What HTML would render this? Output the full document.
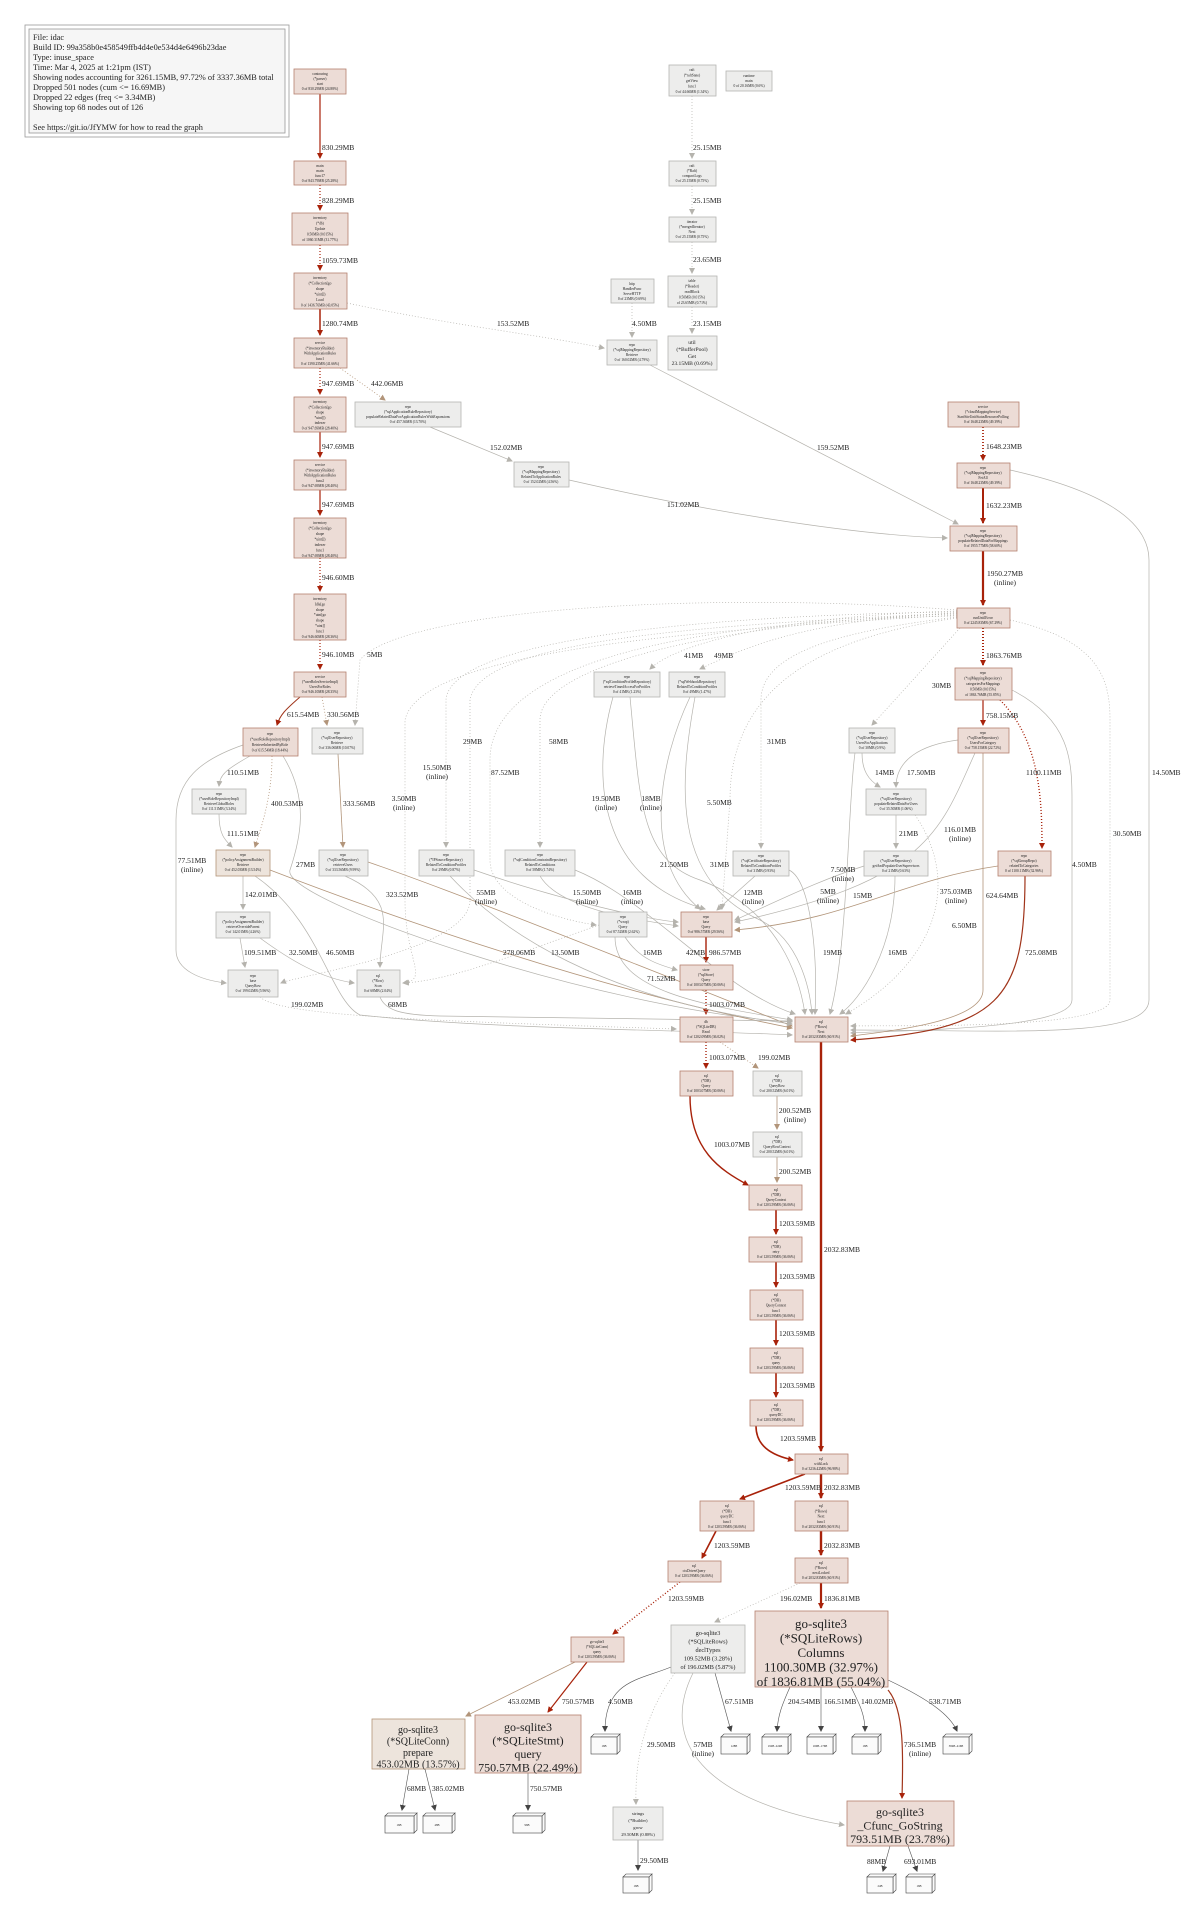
<!DOCTYPE html>
<html><head><meta charset="utf-8"><style>
html,body{margin:0;padding:0;background:#fff}
svg{display:block}
text{font-family:"Liberation Serif",serif;fill:#222}
.l{font-size:7.5px}
.n text{font-size:3.6px;text-anchor:middle}
.r rect{fill:#ecdcd6;stroke:#b5806f;stroke-width:.8}
.g rect{fill:#ededec;stroke:#b5b5b2;stroke-width:.8}
.t rect{fill:#ede4dc;stroke:#b29478;stroke-width:.8}
.e{fill:none}
.red{stroke:#a8220a}
.gry{stroke:#b5b3ad;stroke-width:.7}
.tan{stroke:#b2957a;stroke-width:.8}
.dot{stroke-dasharray:1,2}
.box rect,.box path{fill:#fbfbfb;stroke:#444;stroke-width:.6}
.box text{font-size:3px;text-anchor:middle}
</style></head><body>
<svg width="1200" height="1914" viewBox="0 0 1200 1914" xmlns="http://www.w3.org/2000/svg">
<defs>
<marker id="ar" markerWidth="6" markerHeight="6" refX="5" refY="3" orient="auto" markerUnits="userSpaceOnUse"><path d="M0,0L6,3L0,6z" fill="#a8220a"/></marker>
<marker id="ag" markerWidth="6" markerHeight="6" refX="5" refY="3" orient="auto" markerUnits="userSpaceOnUse"><path d="M0,0L6,3L0,6z" fill="#b5b3ad"/></marker>
<marker id="at" markerWidth="6" markerHeight="6" refX="5" refY="3" orient="auto" markerUnits="userSpaceOnUse"><path d="M0,0L6,3L0,6z" fill="#b2957a"/></marker>
<marker id="ak" markerWidth="6" markerHeight="6" refX="5" refY="3" orient="auto" markerUnits="userSpaceOnUse"><path d="M0,0L6,3L0,6z" fill="#444"/></marker>
</defs>
<rect width="1200" height="1914" fill="#fff"/>

<rect x="25" y="25" width="264" height="112" fill="#fff" stroke="#999" stroke-width=".8"/>
<rect x="29" y="29" width="256" height="104" fill="#f6f6f6" stroke="#999" stroke-width=".8"/>
<g style="font-size:8.3px">
<text x="33" y="40">File: idac</text>
<text x="33" y="50">Build ID: 99a358b0e458549ffb4d4e0e534d4e6496b23dae</text>
<text x="33" y="60">Type: inuse_space</text>
<text x="33" y="70">Time: Mar 4, 2025 at 1:21pm (IST)</text>
<text x="33" y="80">Showing nodes accounting for 3261.15MB, 97.72% of 3337.36MB total</text>
<text x="33" y="90">Dropped 501 nodes (cum &lt;= 16.69MB)</text>
<text x="33" y="100">Dropped 22 edges (freq &lt;= 3.34MB)</text>
<text x="33" y="110">Showing top 68 nodes out of 126</text>
<text x="33" y="130">See https://git.io/JfYMW for how to read the graph</text>
</g>

<g class="e">
<path class="red" stroke-width="1.2" d="M320,94L320,158" marker-end="url(#ar)"/>
<path class="red dot" stroke-width="1.2" d="M320,185L320,210" marker-end="url(#ar)"/>
<path class="red dot" stroke-width="1.2" d="M320,245L320,270" marker-end="url(#ar)"/>
<path class="red" stroke-width="1.5" d="M320,309L320,335" marker-end="url(#ar)"/>
<path class="gry dot" d="M347,303C450,325 540,335 604,348" marker-end="url(#ag)"/>
<path class="red dot" stroke-width="1.2" d="M320,368L320,394" marker-end="url(#ar)"/>
<path class="tan dot" d="M340,368L385,400" marker-end="url(#at)"/>
<path class="red" stroke-width="1.2" d="M320,432L320,457" marker-end="url(#ar)"/>
<path class="red" stroke-width="1.2" d="M320,490L320,515" marker-end="url(#ar)"/>
<path class="red dot" stroke-width="1.2" d="M320,558L320,591" marker-end="url(#ar)"/>
<path class="red dot" stroke-width="1.2" d="M320,640L320,669" marker-end="url(#ar)"/>
<path class="gry" d="M430,427L512,461" marker-end="url(#ag)"/>
<path class="gry" d="M569,480C700,510 850,535 947,538" marker-end="url(#ag)"/>
<path class="gry" d="M650,365L958,524" marker-end="url(#ag)"/>
<path class="gry dot" d="M632,303L632,337" marker-end="url(#ag)"/>
<path class="gry dot" d="M692,96L692,158" marker-end="url(#ag)"/>
<path class="gry dot" d="M692,186L692,214" marker-end="url(#ag)"/>
<path class="gry dot" d="M692,242L692,273" marker-end="url(#ag)"/>
<path class="gry dot" d="M692,307L692,333" marker-end="url(#ag)"/>
<path class="red dot" stroke-width="1.8" d="M983,427L983,460" marker-end="url(#ar)"/>
<path class="red" stroke-width="2" d="M983,488L983,523" marker-end="url(#ar)"/>
<path class="red" stroke-width="2.2" d="M983,551L983,605" marker-end="url(#ar)"/>
<path class="red dot" stroke-width="2" d="M983,628L983,665" marker-end="url(#ar)"/>
<path class="red" stroke-width="1.2" d="M983,700L983,725" marker-end="url(#ar)"/>
<path class="red dot" stroke-width="1.4" d="M1000,700C1040,740 1042,800 1042,848" marker-end="url(#ar)"/>
<path class="gry" d="M1010,470C1100,490 1149,520 1149,560L1149,1000C1149,1040 1000,1030 851,1030" marker-end="url(#ag)"/>
<path class="gry" d="M1012,690C1070,720 1072,760 1072,800L1072,1000C1072,1030 900,1030 851,1033" marker-end="url(#ag)"/>
<path class="gry dot" d="M1010,620C1100,640 1110,680 1110,720L1110,1000C1110,1030 900,1025 851,1026" marker-end="url(#ag)"/>
<path class="tan" stroke-width="1.1" d="M983,753L983,990C983,1020 900,1030 851,1036" marker-end="url(#at)"/>
<path stroke="#a0341a" stroke-width="1.2" d="M1025,876C1025,1000 1000,1030 851,1040" marker-end="url(#ar)"/>
<path class="tan" d="M998,866C900,880 850,920 735,930" marker-end="url(#at)"/>
<path class="gry" d="M975,753C940,830 930,880 735,922" marker-end="url(#ag)"/>
<path class="gry" d="M862,753C862,770 868,780 880,787" marker-end="url(#ag)"/>
<path class="gry" d="M958,740C920,745 896,760 896,787" marker-end="url(#ag)"/>
<path class="gry" d="M896,815L896,848" marker-end="url(#ag)"/>
<path class="gry" d="M855,753C848,800 848,950 830,1014" marker-end="url(#ag)"/>
<path class="gry" d="M895,876C895,950 860,1000 840,1014" marker-end="url(#ag)"/>
<path class="gry" d="M864,866C820,880 780,900 735,920" marker-end="url(#ag)"/>
<path class="gry dot" d="M915,815C960,880 940,960 846,1014" marker-end="url(#ag)"/>
<path class="gry" d="M755,876L717,910" marker-end="url(#ag)"/>
<path class="gry" d="M789,870C810,880 818,950 815,1014" marker-end="url(#ag)"/>
<path class="gry" d="M690,697C660,760 640,860 700,909" marker-end="url(#ag)"/>
<path class="gry" d="M695,697C680,780 670,880 760,920C800,940 810,990 812,1014" marker-end="url(#ag)"/>
<path class="gry" d="M613,697C590,780 600,880 705,909" marker-end="url(#ag)"/>
<path class="gry" d="M630,697C640,800 640,860 700,880C780,910 800,980 805,1014" marker-end="url(#ag)"/>
<path class="red" stroke-width="1.4" d="M706,937L706,962" marker-end="url(#ar)"/>
<path class="gry" d="M625,937C640,960 660,965 677,970" marker-end="url(#ag)"/>
<path class="gry" d="M615,937C615,990 700,1005 792,1020" marker-end="url(#ag)"/>
<path class="red dot" stroke-width="1.4" d="M706,990L706,1014" marker-end="url(#ar)"/>
<path class="red dot" stroke-width="1.4" d="M706,1042L706,1068" marker-end="url(#ar)"/>
<path class="tan dot" d="M720,1042L758,1068" marker-end="url(#at)"/>
<path class="red" stroke-width="1.4" d="M690,1096C690,1150 720,1170 748,1185" marker-end="url(#ar)"/>
<path class="tan" d="M777,1096L777,1129" marker-end="url(#at)"/>
<path class="tan" d="M777,1157L777,1182" marker-end="url(#at)"/>
<path class="red" stroke-width="1.6" d="M776,1210L776,1234" marker-end="url(#ar)"/>
<path class="red" stroke-width="1.6" d="M776,1262L776,1287" marker-end="url(#ar)"/>
<path class="red" stroke-width="1.6" d="M776,1320L776,1345" marker-end="url(#ar)"/>
<path class="red" stroke-width="1.6" d="M776,1373L776,1397" marker-end="url(#ar)"/>
<path class="red" stroke-width="1.6" d="M756,1426C756,1445 770,1455 793,1460" marker-end="url(#ar)"/>
<path class="red" stroke-width="2.4" d="M821,1042L821,1451" marker-end="url(#ar)"/>
<path class="red" stroke-width="1.6" d="M805,1474L740,1499" marker-end="url(#ar)"/>
<path class="red" stroke-width="2.4" d="M821,1474L821,1498" marker-end="url(#ar)"/>
<path class="red" stroke-width="1.6" d="M716,1531L702,1558" marker-end="url(#ar)"/>
<path class="red" stroke-width="2.4" d="M821,1531L821,1555" marker-end="url(#ar)"/>
<path class="red dot" stroke-width="1.4" d="M680,1582L613,1634" marker-end="url(#ar)"/>
<path class="red" stroke-width="2.2" d="M821,1583L821,1608" marker-end="url(#ar)"/>
<path class="gry dot" d="M800,1583L715,1622" marker-end="url(#ag)"/>
<path class="tan" d="M575,1662L466,1716" marker-end="url(#at)"/>
<path class="red" stroke-width="1.2" d="M587,1662L548,1712" marker-end="url(#ar)"/>
<path stroke="#555" stroke-width=".6" d="M409,1769L402,1810" marker-end="url(#ak)"/>
<path stroke="#555" stroke-width=".6" d="M425,1769L435,1810" marker-end="url(#ak)"/>
<path stroke="#555" stroke-width=".6" d="M528,1773L528,1810" marker-end="url(#ak)"/>
<path stroke="#555" stroke-width=".6" d="M671,1667C640,1680 605,1680 605,1731" marker-end="url(#ak)"/>
<path stroke="#555" stroke-width=".6" d="M715,1673L731,1731" marker-end="url(#ak)"/>
<path class="gry dot" d="M675,1673C640,1720 635,1770 636,1804" marker-end="url(#ag)"/>
<path class="gry" d="M693,1673C660,1740 700,1800 844,1825" marker-end="url(#ag)"/>
<path stroke="#555" stroke-width=".6" d="M790,1687C782,1705 778,1715 777,1731" marker-end="url(#ak)"/>
<path stroke="#555" stroke-width=".6" d="M821,1687L821,1731" marker-end="url(#ak)"/>
<path stroke="#555" stroke-width=".6" d="M851,1687C860,1705 865,1715 865,1731" marker-end="url(#ak)"/>
<path stroke="#555" stroke-width=".6" d="M888,1680C930,1700 950,1715 957,1731" marker-end="url(#ak)"/>
<path stroke="#a0341a" stroke-width="1.2" d="M888,1690C905,1710 903,1760 902,1798" marker-end="url(#ar)"/>
<path stroke="#555" stroke-width=".6" d="M890,1846L883,1871" marker-end="url(#ak)"/>
<path stroke="#555" stroke-width=".6" d="M908,1846L917,1871" marker-end="url(#ak)"/>
<path stroke="#555" stroke-width=".6" d="M638,1840L638,1870" marker-end="url(#ak)"/>
<path stroke="#a0341a" stroke-width="1" d="M300,697C285,710 280,715 277,725" marker-end="url(#ar)"/>
<path class="tan dot" d="M322,697L327,725" marker-end="url(#at)"/>
<path class="gry dot" d="M957,610C700,590 400,610 360,660L355,725" marker-end="url(#ag)"/>
<path class="gry dot" d="M957,612C700,615 450,640 446,700L446,847" marker-end="url(#ag)"/>
<path class="gry dot" d="M957,614C750,620 540,660 540,720L540,847" marker-end="url(#ag)"/>
<path class="gry dot" d="M957,616C700,620 490,660 490,760L490,860C490,900 560,920 596,925" marker-end="url(#ag)"/>
<path class="gry dot" d="M957,611C800,615 680,640 650,669" marker-end="url(#ag)"/>
<path class="gry dot" d="M957,613C800,620 740,650 700,669" marker-end="url(#ag)"/>
<path class="gry dot" d="M957,617C850,630 761,650 761,700L761,848" marker-end="url(#ag)"/>
<path class="gry dot" d="M960,628L872,725" marker-end="url(#ag)"/>
<path class="gry dot" d="M957,615C700,630 420,650 405,720L405,900C405,960 430,980 403,983" marker-end="url(#ag)"/>
<path class="gry dot" d="M957,613C700,625 480,640 470,700L470,900C470,950 300,975 281,983" marker-end="url(#ag)"/>
<path class="gry dot" d="M957,618C800,640 730,700 730,800L722,909" marker-end="url(#ag)"/>
<path class="gry" d="M250,756C225,770 220,775 219,786" marker-end="url(#ag)"/>
<path class="tan dot" d="M272,756C272,800 260,830 255,847" marker-end="url(#at)"/>
<path class="gry" d="M219,814C219,835 225,840 232,847" marker-end="url(#ag)"/>
<path class="gry" d="M243,745C200,760 176,780 176,820L176,950C176,970 200,980 226,983" marker-end="url(#ag)"/>
<path class="gry" d="M283,756C310,800 300,840 290,870C280,900 600,1010 792,1022" marker-end="url(#ag)"/>
<path class="tan" d="M338,754L343,847" marker-end="url(#at)"/>
<path class="gry" d="M243,876L243,909" marker-end="url(#ag)"/>
<path class="tan" d="M270,870C400,920 600,990 792,1028" marker-end="url(#at)"/>
<path class="gry" d="M255,876C320,920 330,1000 360,1015C500,1030 700,1030 792,1035" marker-end="url(#ag)"/>
<path class="gry" d="M240,938L245,967" marker-end="url(#ag)"/>
<path class="gry" d="M260,938C290,960 320,978 354,983" marker-end="url(#ag)"/>
<path class="gry" d="M345,876C400,900 380,930 380,967" marker-end="url(#ag)"/>
<path class="tan" d="M368,862C450,890 600,950 792,1026" marker-end="url(#at)"/>
<path class="gry" d="M450,876C500,930 600,1000 792,1024" marker-end="url(#ag)"/>
<path class="gry" d="M474,870C560,900 650,920 678,922" marker-end="url(#ag)"/>
<path class="gry" d="M540,876C560,910 640,920 678,926" marker-end="url(#ag)"/>
<path class="gry" d="M575,870C650,900 720,990 795,1014" marker-end="url(#ag)"/>
<path class="gry dot" d="M260,997C280,1015 400,1020 676,1029" marker-end="url(#ag)"/>
<path class="gry" d="M380,997C385,1010 400,1015 440,1016L792,1021" marker-end="url(#ag)"/>
<path class="gry dot" d="M599,925C500,960 450,980 404,983" marker-end="url(#ag)"/>
</g>

<g class="l">
<text x="322" y="150">830.29MB</text>
<text x="322" y="203">828.29MB</text>
<text x="322" y="263">1059.73MB</text>
<text x="322" y="326">1280.74MB</text>
<text x="322" y="386">947.69MB</text>
<text x="371" y="386">442.06MB</text>
<text x="497" y="326">153.52MB</text>
<text x="490" y="450">152.02MB</text>
<text x="322" y="449">947.69MB</text>
<text x="322" y="507">947.69MB</text>
<text x="322" y="580">946.60MB</text>
<text x="322" y="657">946.10MB</text>
<text x="367" y="657">5MB</text>
<text x="287" y="717">615.54MB</text>
<text x="327" y="717">330.56MB</text>
<text x="227" y="775">110.51MB</text>
<text x="271" y="806">400.53MB</text>
<text x="343" y="806">333.56MB</text>
<text x="227" y="836">111.51MB</text>
<text x="192" y="863" text-anchor="middle">77.51MB</text><text x="192" y="872" text-anchor="middle">(inline)</text>
<text x="296" y="867">27MB</text>
<text x="245" y="897">142.01MB</text>
<text x="386" y="897">323.52MB</text>
<text x="486" y="895" text-anchor="middle">55MB</text><text x="486" y="904" text-anchor="middle">(inline)</text>
<text x="587" y="895" text-anchor="middle">15.50MB</text><text x="587" y="904" text-anchor="middle">(inline)</text>
<text x="632" y="895" text-anchor="middle">16MB</text><text x="632" y="904" text-anchor="middle">(inline)</text>
<text x="753" y="895" text-anchor="middle">12MB</text><text x="753" y="904" text-anchor="middle">(inline)</text>
<text x="244" y="955">109.51MB</text>
<text x="289" y="955">32.50MB</text>
<text x="326" y="955">46.50MB</text>
<text x="503" y="955">278.06MB</text>
<text x="551" y="955">13.50MB</text>
<text x="388" y="1007">68MB</text>
<text x="291" y="1007">199.02MB</text>
<text x="463" y="744">29MB</text>
<text x="549" y="744">58MB</text>
<text x="437" y="770" text-anchor="middle">15.50MB</text><text x="437" y="779" text-anchor="middle">(inline)</text>
<text x="491" y="775">87.52MB</text>
<text x="404" y="801" text-anchor="middle">3.50MB</text><text x="404" y="810" text-anchor="middle">(inline)</text>
<text x="684" y="658">41MB</text>
<text x="714" y="658">49MB</text>
<text x="767" y="744">31MB</text>
<text x="606" y="801" text-anchor="middle">19.50MB</text><text x="606" y="810" text-anchor="middle">(inline)</text>
<text x="651" y="801" text-anchor="middle">18MB</text><text x="651" y="810" text-anchor="middle">(inline)</text>
<text x="707" y="805">5.50MB</text>
<text x="660" y="867">21.50MB</text>
<text x="710" y="867">31MB</text>
<text x="643" y="955">16MB</text>
<text x="686" y="955">42MB</text>
<text x="709" y="955">986.57MB</text>
<text x="647" y="981">71.52MB</text>
<text x="709" y="1007">1003.07MB</text>
<text x="693" y="150">25.15MB</text>
<text x="693" y="203">25.15MB</text>
<text x="693" y="262">23.65MB</text>
<text x="632" y="326">4.50MB</text>
<text x="693" y="326">23.15MB</text>
<text x="817" y="450">159.52MB</text>
<text x="667" y="507">151.02MB</text>
<text x="986" y="449">1648.23MB</text>
<text x="986" y="508">1632.23MB</text>
<text x="1005" y="576" text-anchor="middle">1950.27MB</text><text x="1005" y="585" text-anchor="middle">(inline)</text>
<text x="986" y="658">1863.76MB</text>
<text x="932" y="688">30MB</text>
<text x="986" y="718">758.15MB</text>
<text x="1026" y="775">1100.11MB</text>
<text x="875" y="775">14MB</text>
<text x="907" y="775">17.50MB</text>
<text x="1152" y="775">14.50MB</text>
<text x="960" y="832" text-anchor="middle">116.01MB</text><text x="960" y="841" text-anchor="middle">(inline)</text>
<text x="1113" y="836">30.50MB</text>
<text x="899" y="836">21MB</text>
<text x="1072" y="867">4.50MB</text>
<text x="843" y="872" text-anchor="middle">7.50MB</text><text x="843" y="881" text-anchor="middle">(inline)</text>
<text x="828" y="894" text-anchor="middle">5MB</text><text x="828" y="903" text-anchor="middle">(inline)</text>
<text x="853" y="898">15MB</text>
<text x="956" y="894" text-anchor="middle">375.03MB</text><text x="956" y="903" text-anchor="middle">(inline)</text>
<text x="986" y="898">624.64MB</text>
<text x="952" y="928">6.50MB</text>
<text x="823" y="955">19MB</text>
<text x="888" y="955">16MB</text>
<text x="1025" y="955">725.08MB</text>
<text x="709" y="1060">1003.07MB</text>
<text x="758" y="1060">199.02MB</text>
<text x="795" y="1113" text-anchor="middle">200.52MB</text><text x="795" y="1122" text-anchor="middle">(inline)</text>
<text x="714" y="1147">1003.07MB</text>
<text x="779" y="1174">200.52MB</text>
<text x="779" y="1226">1203.59MB</text>
<text x="824" y="1252">2032.83MB</text>
<text x="779" y="1279">1203.59MB</text>
<text x="779" y="1336">1203.59MB</text>
<text x="779" y="1388">1203.59MB</text>
<text x="780" y="1441">1203.59MB</text>
<text x="785" y="1490">1203.59MB</text>
<text x="824" y="1490">2032.83MB</text>
<text x="714" y="1548">1203.59MB</text>
<text x="824" y="1548">2032.83MB</text>
<text x="668" y="1601">1203.59MB</text>
<text x="780" y="1601">196.02MB</text>
<text x="824" y="1601">1836.81MB</text>
<text x="508" y="1704">453.02MB</text>
<text x="562" y="1704">750.57MB</text>
<text x="608" y="1704">4.50MB</text>
<text x="725" y="1704">67.51MB</text>
<text x="788" y="1704">204.54MB</text>
<text x="824" y="1704">166.51MB</text>
<text x="861" y="1704">140.02MB</text>
<text x="929" y="1704">538.71MB</text>
<text x="647" y="1747">29.50MB</text>
<text x="703" y="1747" text-anchor="middle">57MB</text><text x="703" y="1756" text-anchor="middle">(inline)</text>
<text x="920" y="1747" text-anchor="middle">736.51MB</text><text x="920" y="1756" text-anchor="middle">(inline)</text>
<text x="407" y="1791">68MB</text>
<text x="432" y="1791">385.02MB</text>
<text x="530" y="1791">750.57MB</text>
<text x="640" y="1863">29.50MB</text>
<text x="867" y="1864">88MB</text>
<text x="904" y="1864">693.01MB</text>
</g>

<g class="n r">
<rect x="294" y="69" width="52" height="25"/><text x="320" y="75"><tspan x="320">contouring</tspan><tspan x="320" dy="5">(*parser)</tspan><tspan x="320" dy="5">start</tspan><tspan x="320" dy="5">0 of 830.29MB (24.88%)</tspan></text>
<rect x="294" y="161" width="52" height="24"/><text x="320" y="167"><tspan x="320">main</tspan><tspan x="320" dy="5">main</tspan><tspan x="320" dy="5">func17</tspan><tspan x="320" dy="5">0 of 843.79MB (25.28%)</tspan></text>
<rect x="292" y="213" width="56" height="32"/><text x="320" y="219"><tspan x="320">inventory</tspan><tspan x="320" dy="5.5">(*db)</tspan><tspan x="320" dy="5.5">Update</tspan><tspan x="320" dy="5.5">0.50MB (0.015%)</tspan><tspan x="320" dy="5.5">of 1060.31MB (31.77%)</tspan></text>
<rect x="294" y="273" width="53" height="36"/><text x="320" y="279"><tspan x="320">inventory</tspan><tspan x="320" dy="5.5">(*Collection[go</tspan><tspan x="320" dy="5.5">shape</tspan><tspan x="320" dy="5.5">*uint]])</tspan><tspan x="320" dy="5.5">Load</tspan><tspan x="320" dy="5.5">0 of 1436.76MB (43.05%)</tspan></text>
<rect x="294" y="338" width="53" height="30"/><text x="320" y="344"><tspan x="320">service</tspan><tspan x="320" dy="5.3">(*inventoryBuilder)</tspan><tspan x="320" dy="5.3">WithApplicationRules</tspan><tspan x="320" dy="5.3">func1</tspan><tspan x="320" dy="5.3">0 of 1390.25MB (41.66%)</tspan></text>
<rect x="294" y="397" width="52" height="35"/><text x="320" y="403"><tspan x="320">inventory</tspan><tspan x="320" dy="5.3">(*Collection[go</tspan><tspan x="320" dy="5.3">shape</tspan><tspan x="320" dy="5.3">*uint]])</tspan><tspan x="320" dy="5.3">indexer</tspan><tspan x="320" dy="5.3">0 of 947.69MB (28.40%)</tspan></text>
<rect x="294" y="460" width="52" height="30"/><text x="320" y="466"><tspan x="320">service</tspan><tspan x="320" dy="5.3">(*inventoryBuilder)</tspan><tspan x="320" dy="5.3">WithApplicationRules</tspan><tspan x="320" dy="5.3">func2</tspan><tspan x="320" dy="5.3">0 of 947.69MB (28.40%)</tspan></text>
<rect x="294" y="518" width="52" height="40"/><text x="320" y="524"><tspan x="320">inventory</tspan><tspan x="320" dy="5.5">(*Collection[go</tspan><tspan x="320" dy="5.5">shape</tspan><tspan x="320" dy="5.5">*uint]])</tspan><tspan x="320" dy="5.5">indexer</tspan><tspan x="320" dy="5.5">func1</tspan><tspan x="320" dy="5.5">0 of 947.69MB (28.40%)</tspan></text>
<rect x="294" y="594" width="52" height="46"/><text x="320" y="600"><tspan x="320">inventory</tspan><tspan x="320" dy="5.4">Idle[go</tspan><tspan x="320" dy="5.4">shape</tspan><tspan x="320" dy="5.4">*uint[go</tspan><tspan x="320" dy="5.4">shape</tspan><tspan x="320" dy="5.4">*uint]]</tspan><tspan x="320" dy="5.4">func1</tspan><tspan x="320" dy="5.4">0 of 946.60MB (28.36%)</tspan></text>
<rect x="294" y="672" width="52" height="25"/><text x="320" y="678"><tspan x="320">service</tspan><tspan x="320" dy="5">(*userRolesServiceImpl)</tspan><tspan x="320" dy="5">UsersForRoles</tspan><tspan x="320" dy="5">0 of 946.10MB (28.35%)</tspan></text>
<rect x="243" y="728" width="55" height="28"/><text x="270" y="735"><tspan x="270">repo</tspan><tspan x="270" dy="5.5">(*userRoleRepositoryImpl)</tspan><tspan x="270" dy="5.5">RetrieveInheritedByRole</tspan><tspan x="270" dy="5.5">0 of 615.54MB (18.44%)</tspan></text>
<rect x="948" y="402" width="71" height="25"/><text x="983" y="408"><tspan x="983">service</tspan><tspan x="983" dy="5">(*cloudMappingService)</tspan><tspan x="983" dy="5">StartSiteUnitStatusResourcePolling</tspan><tspan x="983" dy="5">0 of 1648.23MB (49.39%)</tspan></text>
<rect x="957" y="463" width="53" height="25"/><text x="983" y="469"><tspan x="983">repo</tspan><tspan x="983" dy="5">(*sqlMappingRepository)</tspan><tspan x="983" dy="5">FetAll</tspan><tspan x="983" dy="5">0 of 1648.23MB (49.39%)</tspan></text>
<rect x="950" y="526" width="67" height="25"/><text x="983" y="532"><tspan x="983">repo</tspan><tspan x="983" dy="5">(*sqlMappingRepository)</tspan><tspan x="983" dy="5">populateRelatedDataForMappings</tspan><tspan x="983" dy="5">0 of 1955.77MB (58.60%)</tspan></text>
<rect x="957" y="608" width="53" height="20"/><text x="983" y="614"><tspan x="983">repo</tspan><tspan x="983" dy="5">runUntilError</tspan><tspan x="983" dy="5">0 of 2245.83MB (67.29%)</tspan></text>
<rect x="955" y="668" width="57" height="32"/><text x="983" y="674"><tspan x="983">repo</tspan><tspan x="983" dy="5.5">(*sqlMappingRepository)</tspan><tspan x="983" dy="5.5">categoriesForMappings</tspan><tspan x="983" dy="5.5">0.50MB (0.015%)</tspan><tspan x="983" dy="5.5">of 1863.76MB (55.85%)</tspan></text>
<rect x="958" y="728" width="51" height="25"/><text x="983" y="734"><tspan x="983">repo</tspan><tspan x="983" dy="5">(*sqlUserRepository)</tspan><tspan x="983" dy="5">UsersForCategory</tspan><tspan x="983" dy="5">0 of 758.15MB (22.72%)</tspan></text>
<rect x="998" y="851" width="53" height="25"/><text x="1024" y="857"><tspan x="1024">repo</tspan><tspan x="1024" dy="5">(*sqlGroupRepo)</tspan><tspan x="1024" dy="5">relatedToCategories</tspan><tspan x="1024" dy="5">0 of 1100.11MB (32.96%)</tspan></text>
<rect x="681" y="912" width="51" height="25"/><text x="706" y="918"><tspan x="706">repo</tspan><tspan x="706" dy="5">base</tspan><tspan x="706" dy="5">Query</tspan><tspan x="706" dy="5">0 of 986.57MB (29.56%)</tspan></text>
<rect x="680" y="965" width="53" height="25"/><text x="706" y="971"><tspan x="706">store</tspan><tspan x="706" dy="5">(*sqlStore)</tspan><tspan x="706" dy="5">Query</tspan><tspan x="706" dy="5">0 of 1003.07MB (30.06%)</tspan></text>
<rect x="680" y="1017" width="53" height="25"/><text x="706" y="1023"><tspan x="706">db</tspan><tspan x="706" dy="5">(*SQLiteDB)</tspan><tspan x="706" dy="5">Read</tspan><tspan x="706" dy="5">0 of 1202.09MB (36.02%)</tspan></text>
<rect x="795" y="1017" width="53" height="25"/><text x="821" y="1023"><tspan x="821">sql</tspan><tspan x="821" dy="5">(*Rows)</tspan><tspan x="821" dy="5">Next</tspan><tspan x="821" dy="5">0 of 2032.83MB (60.91%)</tspan></text>
<rect x="680" y="1071" width="53" height="25"/><text x="706" y="1077"><tspan x="706">sql</tspan><tspan x="706" dy="5">(*DB)</tspan><tspan x="706" dy="5">Query</tspan><tspan x="706" dy="5">0 of 1003.07MB (30.06%)</tspan></text>
<rect x="749" y="1185" width="53" height="25"/><text x="776" y="1191"><tspan x="776">sql</tspan><tspan x="776" dy="5">(*DB)</tspan><tspan x="776" dy="5">QueryContext</tspan><tspan x="776" dy="5">0 of 1203.59MB (36.06%)</tspan></text>
<rect x="749" y="1237" width="53" height="25"/><text x="776" y="1243"><tspan x="776">sql</tspan><tspan x="776" dy="5">(*DB)</tspan><tspan x="776" dy="5">retry</tspan><tspan x="776" dy="5">0 of 1203.59MB (36.06%)</tspan></text>
<rect x="750" y="1290" width="53" height="30"/><text x="776" y="1296"><tspan x="776">sql</tspan><tspan x="776" dy="5.3">(*DB)</tspan><tspan x="776" dy="5.3">QueryContext</tspan><tspan x="776" dy="5.3">func1</tspan><tspan x="776" dy="5.3">0 of 1203.59MB (36.06%)</tspan></text>
<rect x="750" y="1348" width="53" height="25"/><text x="776" y="1354"><tspan x="776">sql</tspan><tspan x="776" dy="5">(*DB)</tspan><tspan x="776" dy="5">query</tspan><tspan x="776" dy="5">0 of 1203.59MB (36.06%)</tspan></text>
<rect x="750" y="1400" width="53" height="26"/><text x="776" y="1406"><tspan x="776">sql</tspan><tspan x="776" dy="5">(*DB)</tspan><tspan x="776" dy="5">queryDC</tspan><tspan x="776" dy="5">0 of 1203.59MB (36.06%)</tspan></text>
<rect x="795" y="1454" width="53" height="20"/><text x="821" y="1460"><tspan x="821">sql</tspan><tspan x="821" dy="5">withLock</tspan><tspan x="821" dy="5">0 of 3236.42MB (96.98%)</tspan></text>
<rect x="700" y="1501" width="54" height="30"/><text x="727" y="1507"><tspan x="727">sql</tspan><tspan x="727" dy="5.3">(*DB)</tspan><tspan x="727" dy="5.3">queryDC</tspan><tspan x="727" dy="5.3">func1</tspan><tspan x="727" dy="5.3">0 of 1203.59MB (36.06%)</tspan></text>
<rect x="795" y="1501" width="53" height="30"/><text x="821" y="1507"><tspan x="821">sql</tspan><tspan x="821" dy="5.3">(*Rows)</tspan><tspan x="821" dy="5.3">Next</tspan><tspan x="821" dy="5.3">func1</tspan><tspan x="821" dy="5.3">0 of 2032.83MB (60.91%)</tspan></text>
<rect x="668" y="1561" width="53" height="21"/><text x="694" y="1567"><tspan x="694">sql</tspan><tspan x="694" dy="5">ctxDriverQuery</tspan><tspan x="694" dy="5">0 of 1203.59MB (36.06%)</tspan></text>
<rect x="795" y="1558" width="53" height="25"/><text x="821" y="1564"><tspan x="821">sql</tspan><tspan x="821" dy="5">(*Rows)</tspan><tspan x="821" dy="5">nextLocked</tspan><tspan x="821" dy="5">0 of 2032.83MB (60.91%)</tspan></text>
<rect x="571" y="1637" width="53" height="25"/><text x="597" y="1643"><tspan x="597">go-sqlite3</tspan><tspan x="597" dy="5">(*SQLiteConn)</tspan><tspan x="597" dy="5">query</tspan><tspan x="597" dy="5">0 of 1203.59MB (36.06%)</tspan></text>
<rect x="755" y="1611" width="133" height="76"/>
<text x="821" y="1628" style="font-size:13px"><tspan x="821">go-sqlite3</tspan><tspan x="821" dy="14.5">(*SQLiteRows)</tspan><tspan x="821" dy="14.5">Columns</tspan><tspan x="821" dy="14.5">1100.30MB (32.97%)</tspan><tspan x="821" dy="14.5">of 1836.81MB (55.04%)</tspan></text>
<rect x="475" y="1715" width="106" height="58"/>
<text x="528" y="1731" style="font-size:12px"><tspan x="528">go-sqlite3</tspan><tspan x="528" dy="13.5">(*SQLiteStmt)</tspan><tspan x="528" dy="13.5">query</tspan><tspan x="528" dy="13.5">750.57MB (22.49%)</tspan></text>
<rect x="847" y="1801" width="107" height="45"/>
<text x="900" y="1816" style="font-size:12px"><tspan x="900">go-sqlite3</tspan><tspan x="900" dy="13.5">_Cfunc_GoString</tspan><tspan x="900" dy="13.5">793.51MB (23.78%)</tspan></text>
</g>
<g class="n t">
<rect x="216" y="850" width="54" height="26"/><text x="243" y="856"><tspan x="243">repo</tspan><tspan x="243" dy="5">(*policyAssignmentBuilder)</tspan><tspan x="243" dy="5">Retrieve</tspan><tspan x="243" dy="5">0 of 452.03MB (13.54%)</tspan></text>
<rect x="372" y="1719" width="93" height="50"/>
<text x="418" y="1733" style="font-size:10px"><tspan x="418">go-sqlite3</tspan><tspan x="418" dy="11.5">(*SQLiteConn)</tspan><tspan x="418" dy="11.5">prepare</tspan><tspan x="418" dy="11.5">453.02MB (13.57%)</tspan></text>
</g>
<g class="n g">
<rect x="355" y="402" width="106" height="25"/><text x="408" y="408"><tspan x="408">repo</tspan><tspan x="408" dy="5">(*sqlApplicationRuleRepository)</tspan><tspan x="408" dy="5">populateRelatedDataForApplicationRulesWithExpansions</tspan><tspan x="408" dy="5">0 of 457.36MB (13.70%)</tspan></text>
<rect x="312" y="728" width="51" height="26"/><text x="337" y="734"><tspan x="337">repo</tspan><tspan x="337" dy="5">(*sqlUserRepository)</tspan><tspan x="337" dy="5">Retrieve</tspan><tspan x="337" dy="5">0 of 336.06MB (10.07%)</tspan></text>
<rect x="514" y="462" width="55" height="25"/><text x="541" y="468"><tspan x="541">repo</tspan><tspan x="541" dy="5">(*sqlMappingRepository)</tspan><tspan x="541" dy="5">RelatedToApplicationRules</tspan><tspan x="541" dy="5">0 of 152.02MB (4.56%)</tspan></text>
<rect x="192" y="789" width="54" height="25"/><text x="219" y="795"><tspan x="219">repo</tspan><tspan x="219" dy="5">(*userRoleRepositoryImpl)</tspan><tspan x="219" dy="5">RetrieveGlobalRoles</tspan><tspan x="219" dy="5">0 of 111.51MB (3.34%)</tspan></text>
<rect x="319" y="850" width="49" height="26"/><text x="343" y="856"><tspan x="343">repo</tspan><tspan x="343" dy="5">(*sqlUserRepository)</tspan><tspan x="343" dy="5">retrieveUsers</tspan><tspan x="343" dy="5">0 of 333.56MB (9.99%)</tspan></text>
<rect x="419" y="850" width="55" height="26"/><text x="446" y="856"><tspan x="446">repo</tspan><tspan x="446" dy="5">(*IPSourceRepository)</tspan><tspan x="446" dy="5">RelatedToConditionProfiles</tspan><tspan x="446" dy="5">0 of 29MB (0.87%)</tspan></text>
<rect x="505" y="850" width="70" height="26"/><text x="540" y="856"><tspan x="540">repo</tspan><tspan x="540" dy="5">(*sqlConditionConstraintRepository)</tspan><tspan x="540" dy="5">RelatedToConditions</tspan><tspan x="540" dy="5">0 of 58MB (1.74%)</tspan></text>
<rect x="216" y="912" width="54" height="26"/><text x="243" y="918"><tspan x="243">repo</tspan><tspan x="243" dy="5">(*policyAssignmentBuilder)</tspan><tspan x="243" dy="5">retrieveOverrideParent</tspan><tspan x="243" dy="5">0 of 142.01MB (4.26%)</tspan></text>
<rect x="228" y="970" width="50" height="27"/><text x="253" y="977"><tspan x="253">repo</tspan><tspan x="253" dy="5">base</tspan><tspan x="253" dy="5">QueryRow</tspan><tspan x="253" dy="5">0 of 199.02MB (5.96%)</tspan></text>
<rect x="357" y="970" width="43" height="27"/><text x="378" y="977"><tspan x="378">sql</tspan><tspan x="378" dy="5">(*Row)</tspan><tspan x="378" dy="5">Scan</tspan><tspan x="378" dy="5">0 of 68MB (2.04%)</tspan></text>
<rect x="669" y="65" width="47" height="31"/><text x="692" y="71"><tspan x="692">raft</tspan><tspan x="692" dy="5.5">(*raftState)</tspan><tspan x="692" dy="5.5">getView</tspan><tspan x="692" dy="5.5">func1</tspan><tspan x="692" dy="5.5">0 of 44.66MB (1.34%)</tspan></text>
<rect x="726" y="71" width="46" height="20"/><text x="749" y="77"><tspan x="749">runtime</tspan><tspan x="749" dy="5">main</tspan><tspan x="749" dy="5">0 of 20.16MB (0.6%)</tspan></text>
<rect x="669" y="161" width="47" height="25"/><text x="692" y="167"><tspan x="692">raft</tspan><tspan x="692" dy="5">(*Raft)</tspan><tspan x="692" dy="5">compactLogs</tspan><tspan x="692" dy="5">0 of 25.15MB (0.75%)</tspan></text>
<rect x="669" y="217" width="47" height="25"/><text x="692" y="223"><tspan x="692">iterator</tspan><tspan x="692" dy="5">(*mergedIterator)</tspan><tspan x="692" dy="5">Next</tspan><tspan x="692" dy="5">0 of 25.15MB (0.75%)</tspan></text>
<rect x="668" y="276" width="49" height="31"/><text x="692" y="282"><tspan x="692">table</tspan><tspan x="692" dy="5.5">(*Reader)</tspan><tspan x="692" dy="5.5">readBlock</tspan><tspan x="692" dy="5.5">0.50MB (0.015%)</tspan><tspan x="692" dy="5.5">of 23.65MB (0.71%)</tspan></text>
<rect x="611" y="279" width="43" height="24"/><text x="632" y="285"><tspan x="632">http</tspan><tspan x="632" dy="5">HandlerFunc</tspan><tspan x="632" dy="5">ServeHTTP</tspan><tspan x="632" dy="5">0 of 23MB (0.69%)</tspan></text>
<rect x="668" y="336" width="49" height="34"/><text x="692" y="344" style="font-size:5.6px"><tspan x="692">util</tspan><tspan x="692" dy="7">(*BufferPool)</tspan><tspan x="692" dy="7">Get</tspan><tspan x="692" dy="7">23.15MB (0.69%)</tspan></text>
<rect x="607" y="340" width="50" height="25"/><text x="632" y="346"><tspan x="632">repo</tspan><tspan x="632" dy="5">(*sqlMappingRepository)</tspan><tspan x="632" dy="5">Retrieve</tspan><tspan x="632" dy="5">0 of 160.02MB (4.79%)</tspan></text>
<rect x="594" y="672" width="66" height="25"/><text x="627" y="678"><tspan x="627">repo</tspan><tspan x="627" dy="5">(*sqlConditionProfileRepository)</tspan><tspan x="627" dy="5">retrieveTimedAccessForProfiles</tspan><tspan x="627" dy="5">0 of 41MB (1.23%)</tspan></text>
<rect x="669" y="672" width="56" height="25"/><text x="697" y="678"><tspan x="697">repo</tspan><tspan x="697" dy="5">(*sqlWebhookRepository)</tspan><tspan x="697" dy="5">RelatedToConditionProfiles</tspan><tspan x="697" dy="5">0 of 49MB (1.47%)</tspan></text>
<rect x="849" y="728" width="46" height="25"/><text x="872" y="734"><tspan x="872">repo</tspan><tspan x="872" dy="5">(*sqlUserRepository)</tspan><tspan x="872" dy="5">UsersForApplications</tspan><tspan x="872" dy="5">0 of 30MB (0.9%)</tspan></text>
<rect x="866" y="789" width="60" height="26"/><text x="896" y="795"><tspan x="896">repo</tspan><tspan x="896" dy="5">(*sqlUserRepository)</tspan><tspan x="896" dy="5">populateRelatedDataForUsers</tspan><tspan x="896" dy="5">0 of 35.50MB (1.06%)</tspan></text>
<rect x="733" y="851" width="56" height="25"/><text x="761" y="857"><tspan x="761">repo</tspan><tspan x="761" dy="5">(*sqlCertificateRepository)</tspan><tspan x="761" dy="5">RelatedToConditionProfiles</tspan><tspan x="761" dy="5">0 of 31MB (0.93%)</tspan></text>
<rect x="864" y="851" width="64" height="25"/><text x="896" y="857"><tspan x="896">repo</tspan><tspan x="896" dy="5">(*sqlUserRepository)</tspan><tspan x="896" dy="5">getAndPopulateUserSupervisors</tspan><tspan x="896" dy="5">0 of 21MB (0.63%)</tspan></text>
<rect x="599" y="912" width="48" height="25"/><text x="623" y="918"><tspan x="623">repo</tspan><tspan x="623" dy="5">(*wrap)</tspan><tspan x="623" dy="5">Query</tspan><tspan x="623" dy="5">0 of 87.52MB (2.62%)</tspan></text>
<rect x="753" y="1071" width="49" height="25"/><text x="777" y="1077"><tspan x="777">sql</tspan><tspan x="777" dy="5">(*DB)</tspan><tspan x="777" dy="5">QueryRow</tspan><tspan x="777" dy="5">0 of 200.52MB (6.01%)</tspan></text>
<rect x="753" y="1132" width="49" height="25"/><text x="777" y="1138"><tspan x="777">sql</tspan><tspan x="777" dy="5">(*DB)</tspan><tspan x="777" dy="5">QueryRowContext</tspan><tspan x="777" dy="5">0 of 200.52MB (6.01%)</tspan></text>
<rect x="671" y="1625" width="74" height="48"/>
<text x="708" y="1635" style="font-size:6.2px"><tspan x="708">go-sqlite3</tspan><tspan x="708" dy="8.5">(*SQLiteRows)</tspan><tspan x="708" dy="8.5">declTypes</tspan><tspan x="708" dy="8.5">109.52MB (3.28%)</tspan><tspan x="708" dy="8.5">of 196.02MB (5.87%)</tspan></text>
<rect x="613" y="1807" width="50" height="33"/>
<text x="638" y="1815" style="font-size:4.6px"><tspan x="638">strings</tspan><tspan x="638" dy="7">(*Builder)</tspan><tspan x="638" dy="7">grow</tspan><tspan x="638" dy="7">29.50MB (0.88%)</tspan></text>
</g>

<g class="box">
<path d="M385,1816l3,-3h29l-3,3z M414,1816l3,-3v17l-3,3z"/><rect x="385" y="1816" width="29" height="17"/><text x="399" y="1826">16B</text>
<path d="M423,1816l3,-3h29l-3,3z M452,1816l3,-3v17l-3,3z"/><rect x="423" y="1816" width="29" height="17"/><text x="437" y="1826">48B</text>
<path d="M513,1816l3,-3h29l-3,3z M542,1816l3,-3v17l-3,3z"/><rect x="513" y="1816" width="29" height="17"/><text x="527" y="1826">96B</text>
<path d="M591,1737l3,-3h26l-3,3z M617,1737l3,-3v17l-3,3z"/><rect x="591" y="1737" width="26" height="17"/><text x="604" y="1747">16B</text>
<path d="M721,1737l3,-3h26l-3,3z M747,1737l3,-3v17l-3,3z"/><rect x="721" y="1737" width="26" height="17"/><text x="734" y="1747">128B</text>
<path d="M762,1737l3,-3h26l-3,3z M788,1737l3,-3v17l-3,3z"/><rect x="762" y="1737" width="26" height="17"/><text x="775" y="1747">192B..224B</text>
<path d="M807,1737l3,-3h26l-3,3z M833,1737l3,-3v17l-3,3z"/><rect x="807" y="1737" width="26" height="17"/><text x="820" y="1747">160B..176B</text>
<path d="M852,1737l3,-3h26l-3,3z M878,1737l3,-3v17l-3,3z"/><rect x="852" y="1737" width="26" height="17"/><text x="865" y="1747">16B</text>
<path d="M943,1737l3,-3h26l-3,3z M969,1737l3,-3v17l-3,3z"/><rect x="943" y="1737" width="26" height="17"/><text x="956" y="1747">384B..416B</text>
<path d="M623,1877l3,-3h26l-3,3z M649,1877l3,-3v16l-3,3z"/><rect x="623" y="1877" width="26" height="16"/><text x="636" y="1887">16B</text>
<path d="M867,1877l3,-3h26l-3,3z M893,1877l3,-3v16l-3,3z"/><rect x="867" y="1877" width="26" height="16"/><text x="880" y="1887">24B</text>
<path d="M906,1877l3,-3h26l-3,3z M932,1877l3,-3v16l-3,3z"/><rect x="906" y="1877" width="26" height="16"/><text x="919" y="1887">16B</text>
</g>
</svg>
</body></html>
